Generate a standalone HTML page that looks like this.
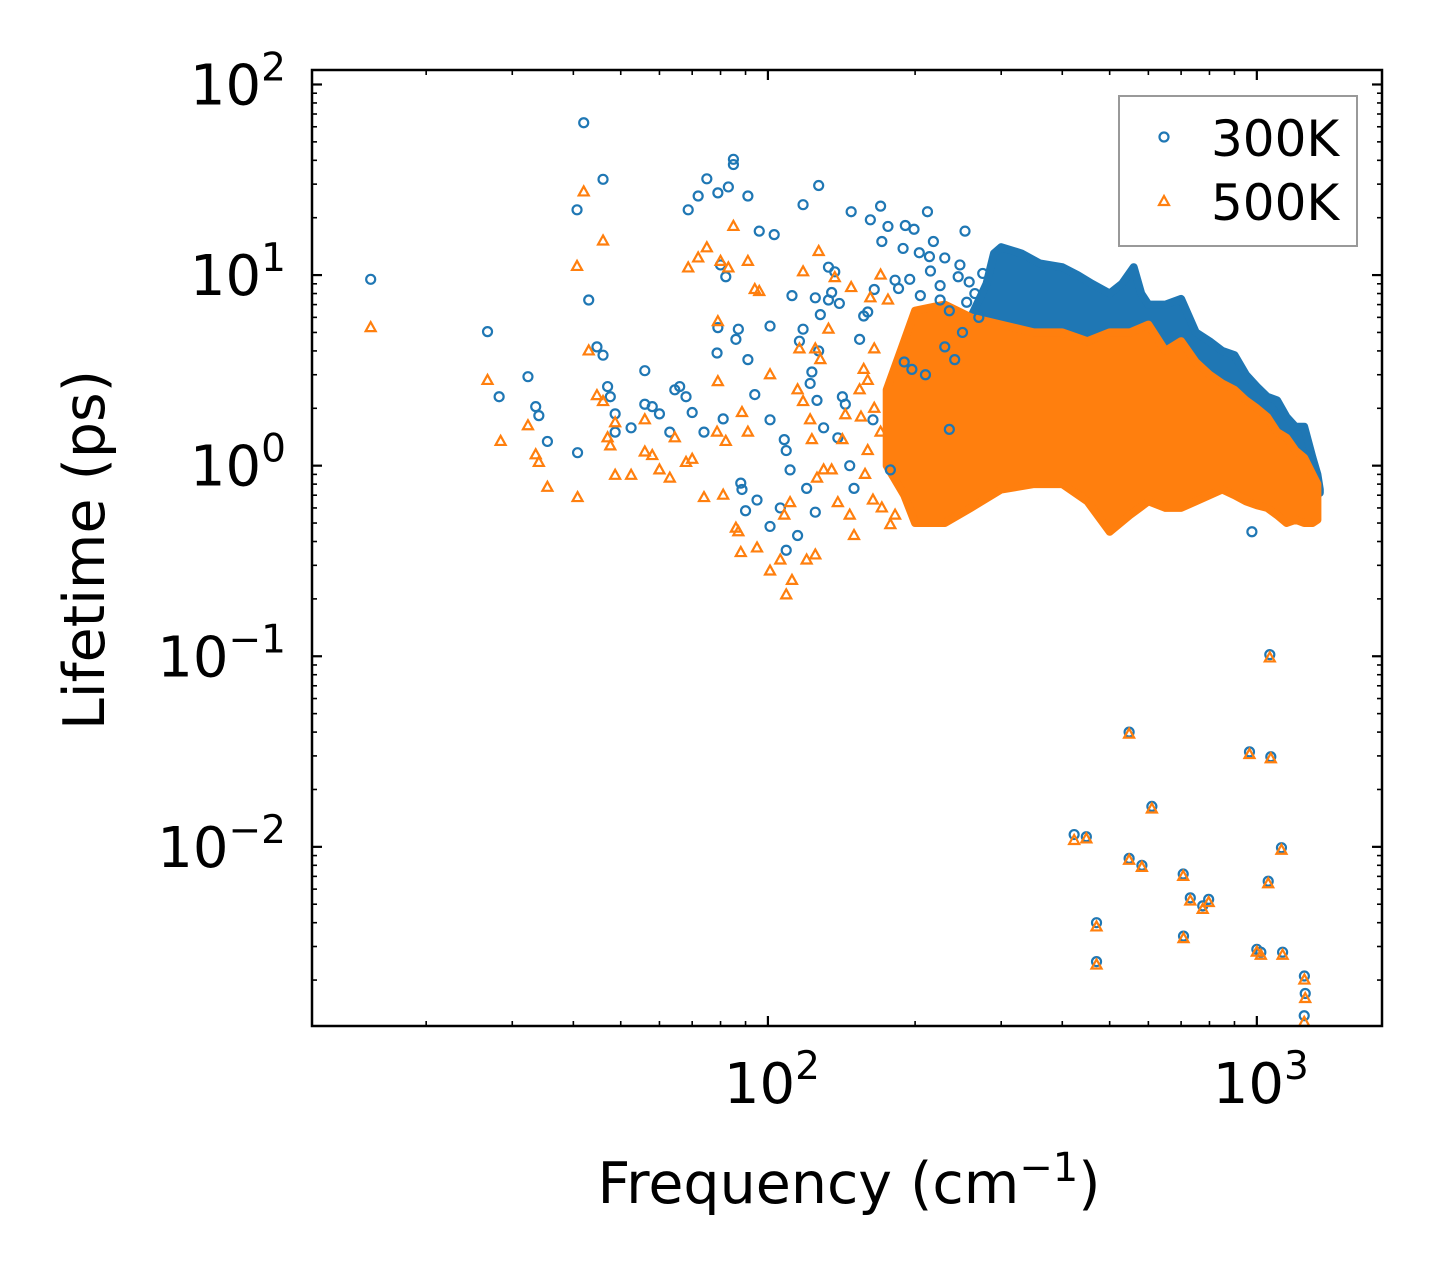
<!DOCTYPE html>
<html><head><meta charset="utf-8"><style>
html,body{margin:0;padding:0;background:#fff;}
svg{display:block;font-family:"DejaVu Sans","Liberation Sans",sans-serif;}
</style></head><body>
<svg id="chart" width="1442" height="1277" viewBox="0 0 1442 1277" xmlns="http://www.w3.org/2000/svg">
<rect width="1442" height="1277" fill="#fff"/>
<defs><clipPath id="plotclip"><rect x="312" y="70" width="1070" height="956"/></clipPath></defs>
<g id="bands" clip-path="url(#plotclip)"></g>
<g id="marks" clip-path="url(#plotclip)"></g>
<g id="axes"></g>
<g>
<rect x="1119" y="96" width="238" height="150" fill="#fff" stroke="#999" stroke-width="2"/>
<circle cx="1164" cy="137" r="4.5" fill="none" stroke="#1f77b4" stroke-width="2.2"/>
<text x="1211" y="156" font-size="50">300K</text>
<path d="M1164,196 l5,9 h-10 z" fill="none" stroke="#ff7f0e" stroke-width="2.2"/>
<text x="1211" y="220" font-size="50">500K</text>
</g>
<text transform="translate(104,550) rotate(-90)" text-anchor="middle" font-size="57">Lifetime (ps)</text>
<text x="849" y="1203" text-anchor="middle" font-size="57">Frequency (cm<tspan dy="-22" font-size="40">−1</tspan><tspan dy="22">)</tspan></text>
</svg>
<script>
// sparse scatter data (frequency cm^-1, lifetime ps)
const blueF = [15.4,26.7,28.2,32.3,33.5,34,35.4,40.7,42,40.8,43,44.7,46,46,47,47.6,48.7,48.7,52.5,56,56,58,60,63,64.5,66,68,68.7,70,72,74,75,78.7,79,79,80,81,82,83,85,85,86,87,88,88.5,90,91,91,94,95,96,103,101,101,101,106,108,109,109,111,112,115,116,118,118,120,122,123,125,125,126,127,127,128,130,133,133,135,137,139,140,142,144,147,148,150,154,157,160,162,164,165,170,171,176,178,182,189,191,197,199,204,212,214,218,225,230,235,241,247,253,258,185,195,205,215,225,235,245,255,265,275,190,210,230,250,270];
const blueT = [9.5,5.05,2.3,2.93,2.04,1.83,1.34,22,63,1.17,7.4,4.2,3.8,31.8,2.6,2.3,1.87,1.5,1.58,2.1,3.15,2.04,1.87,1.5,2.5,2.6,2.3,22,1.9,26,1.5,32,3.9,5.3,27,11.3,1.76,9.8,29,40.5,38,4.6,5.2,0.81,0.75,0.58,3.6,26,2.36,0.66,17,16.3,5.4,1.74,0.48,0.6,1.37,1.2,0.36,0.95,7.8,0.43,4.5,5.2,23.4,0.76,2.7,3.1,7.6,0.57,2.2,4.0,29.5,6.2,1.58,7.4,11,8.1,10.4,1.4,7.1,2.3,2.1,1.0,21.5,0.76,4.6,6.1,6.4,19.5,1.74,8.4,23,15,18,0.95,9.4,13.8,18.2,3.2,17.4,13.1,21.5,12.5,15,7.4,12.3,1.55,3.6,11.3,17,9.2,8.5,9.5,7.8,10.5,8.8,6.5,9.8,7.2,8.0,10.2,3.5,3.0,4.2,5.0,6.0];
const orangeF = [15.4,26.7,28.4,32.3,33.5,34,35.4,40.7,40.8,42,43,44.7,46,46,47,47.6,48.7,48.7,52.5,56,56,58,60,63,64.5,68,68.7,70,72,74,75,78.7,79,79,80,81,82,83,85,86,87,88,88.5,91,91,94,95,96,101,101,106,108,109,111,112,115,116,118,118,120,122,123,125,125,126,127,128,130,133,135,137,139,142,144,147,148,150,154,157,160,162,164,165,170,171,176,178,182,160,165,170,155,158];
const orangeT = [5.3,2.8,1.34,1.62,1.14,1.04,0.77,11.1,0.68,27.3,4.0,2.33,15.1,2.17,1.4,1.27,0.89,1.68,0.89,1.74,1.18,1.13,0.95,0.86,1.4,1.04,10.9,1.08,12.3,0.68,13.9,1.5,2.76,5.7,11.8,0.7,1.34,10.9,18,0.47,0.45,0.35,1.9,1.5,11.8,8.4,0.37,8.2,3.0,0.28,0.32,0.55,0.21,0.64,0.25,2.5,4.1,2.17,10.4,0.32,1.74,1.37,4.1,0.34,0.86,13.3,3.6,0.95,5.2,0.95,9.7,0.64,1.37,1.85,0.55,8.6,0.43,2.5,3.2,2.8,7.6,0.66,4.1,10,0.6,7.4,0.49,0.55,1.2,2.0,1.5,1.8,0.9];
// high-frequency outliers, present in both series
const outF = [423,448,470,470,548,548,582,610,707,708,731,775,797,966,1000,1019,1063,1068,1055,1123,1129,1251,1256,1250];
const outT300 = [0.0116,0.0113,0.0040,0.0025,0.040,0.0087,0.0080,0.0163,0.0072,0.0034,0.0054,0.0049,0.0053,0.0315,0.0029,0.0028,0.102,0.0297,0.0066,0.0099,0.0028,0.0021,0.0017,0.0013];
const outT500 = [0.0108,0.0110,0.0038,0.0024,0.039,0.0085,0.0078,0.0158,0.0070,0.0033,0.0052,0.0047,0.0051,0.0305,0.0028,0.0027,0.098,0.0290,0.0064,0.0096,0.0027,0.0020,0.0016,0.0012];
const extraBlueF = [977];
const extraBlueT = [0.45];
// dense region envelopes
const blueBandF = [240,260,280,290,300,330,360,400,430,460,500,530,560,580,600,650,700,750,800,850,900,950,1000,1050,1100,1150,1200,1250,1300,1330,1345];
const blueBandHi = [4,6,9,13,14,13,11.5,11,10,9,8,9,11,8,7,7,7.5,5,4.5,4,3.8,3,2.6,2.3,2.2,1.8,1.6,1.6,1.1,0.9,0.75];
const blueBandLo = [2,1.8,1.8,1.8,1.5,1.5,1.5,1.5,1.5,1.5,1.5,1.5,1.5,1.5,1.5,1.4,1.4,1.4,1.3,1.3,1.3,1.2,1.2,1.1,1.1,1.0,1.0,0.9,0.8,0.75,0.72];
const orangeBandF = [175,190,200,230,260,300,350,400,450,500,550,600,650,700,750,800,850,900,950,1000,1050,1100,1150,1200,1250,1300,1330];
const orangeBandHi = [2.5,4.5,6.5,7,6,5.5,5,5,4.5,5,5,5.5,4,4.5,3.5,3,2.7,2.5,2.2,2,1.8,1.5,1.4,1.2,1.1,0.9,0.8];
const orangeBandLo = [1.0,0.7,0.5,0.5,0.6,0.75,0.8,0.8,0.65,0.45,0.55,0.65,0.6,0.6,0.65,0.7,0.75,0.7,0.65,0.62,0.6,0.55,0.5,0.52,0.5,0.5,0.52];
const xTickVals = [100,1000];
const xTickExp = ["2","3"];
const yTickVals = [100,10,1,0.1,0.01];
const yTickExp = ["2","1","0","−1","−2"];

const NS="http://www.w3.org/2000/svg";
const X0=312,X1=1382,Y0=70,Y1=1026;
const xmin=1.0675,xmax=3.256,ymin=-2.94,ymax=2.076;
function xs(f){return X0+(Math.log10(f)-xmin)/(xmax-xmin)*(X1-X0);}
function ys(t){return Y1-(Math.log10(t)-ymin)/(ymax-ymin)*(Y1-Y0);}
function mk(tag,attrs,parent){const e=document.createElementNS(NS,tag);for(const k in attrs)e.setAttribute(k,attrs[k]);parent.appendChild(e);return e;}
const bands=document.getElementById('bands'),marks=document.getElementById('marks'),axes=document.getElementById('axes');
function band(F,H,L,color,name){
  let d='M'+F.map((f,i)=>xs(f).toFixed(1)+','+ys(H[i]).toFixed(1)).join(' L');
  for(let i=F.length-1;i>=0;i--)d+=' L'+xs(F[i]).toFixed(1)+','+ys(L[i]).toFixed(1);
  d+=' Z';
  const p=mk('path',{d:d,fill:color,stroke:color,'stroke-width':8,'stroke-linejoin':'round'},bands);
  
  
}
band(blueBandF,blueBandHi,blueBandLo,'#1f77b4','dense-band-300k');
band(orangeBandF,orangeBandHi,orangeBandLo,'#ff7f0e','dense-band-500k');
function circ(f,t){
  const c=mk('circle',{cx:xs(f),cy:ys(t),r:4.5,fill:'none',stroke:'#1f77b4','stroke-width':2.2},marks);
  
  
}
function tri(f,t){
  const x=xs(f),y=ys(t);
  const p=mk('path',{d:`M${x},${y-5.5} L${x+5},${y+3.5} L${x-5},${y+3.5} Z`,fill:'none',stroke:'#ff7f0e','stroke-width':2.2},marks);
  
  
}
blueF.forEach((f,i)=>circ(f,blueT[i]));
outF.forEach((f,i)=>circ(f,outT300[i]));
extraBlueF.forEach((f,i)=>circ(f,extraBlueT[i]));
orangeF.forEach((f,i)=>tri(f,orangeT[i]));
outF.forEach((f,i)=>tri(f,outT500[i]));
const fr=mk('rect',{x:X0,y:Y0,width:X1-X0,height:Y1-Y0,fill:'none',stroke:'#000','stroke-width':2.5},axes);


for(let e=1;e<=3;e++)for(let m=1;m<10;m++){
  const v=m*Math.pow(10,e);const lv=Math.log10(v);
  if(lv<xmin||lv>xmax)continue;
  const x=xs(v),L=m===1?10:5,w=m===1?2.2:1.6;
  const t1=mk('line',{x1:x,y1:Y1,x2:x,y2:Y1-L,stroke:'#000','stroke-width':w},axes);
  
  
  const t2=mk('line',{x1:x,y1:Y0,x2:x,y2:Y0+L,stroke:'#000','stroke-width':w},axes);
  
  
}
xTickVals.forEach((v,i)=>{
  const t=mk('text',{x:xs(v)+4,y:1103,'text-anchor':'middle','font-size':56},axes);
  
  
  t.innerHTML='10<tspan dy="-24" font-size="39">'+xTickExp[i]+'</tspan>';
});
for(let e=-3;e<=2;e++)for(let m=1;m<10;m++){
  const v=m*Math.pow(10,e);const lv=Math.log10(v);
  if(lv<ymin||lv>ymax)continue;
  const y=ys(v),L=m===1?10:5,w=m===1?2.2:1.6;
  const t1=mk('line',{x1:X0,y1:y,x2:X0+L,y2:y,stroke:'#000','stroke-width':w},axes);
  
  
  const t2=mk('line',{x1:X1,y1:y,x2:X1-L,y2:y,stroke:'#000','stroke-width':w},axes);
  
  
}
yTickVals.forEach((v,i)=>{
  const t=mk('text',{x:286,y:ys(v)+20,'text-anchor':'end','font-size':56},axes);
  
  
  t.innerHTML='10<tspan dy="-24" font-size="39">'+yTickExp[i]+'</tspan>';
});
</script>
</body></html>
